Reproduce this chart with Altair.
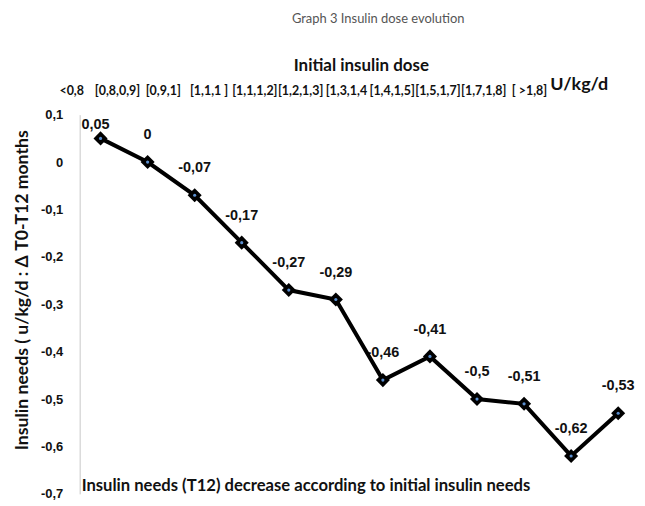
import altair as alt
import pandas as pd

# ---- data ----
point_index = list(range(1, 13))
needs_change = [0.05, 0, -0.07, -0.17, -0.27, -0.29, -0.46, -0.41, -0.5, -0.51, -0.62, -0.53]
dose_labels = ["<0,8", "[0,8,0,9]", "[0,9,1]", "[1,1,1 ]", "[1,1,1,2]", "[1,2,1,3]",
               "[1,3,1,4", "[1,4,1,5]", "[1,5,1,7]", "[1,7,1,8]", "[ >1,8]"]
y_ticks = [0.1, 0, -0.1, -0.2, -0.3, -0.4, -0.5, -0.6, -0.7]

chart_title = "Graph 3 Insulin dose evolution"
top_title = "Initial insulin dose"
unit_label = "U/kg/d"
bottom_note = "Insulin needs  (T12) decrease according to initial insulin needs"
y_title = "Insulin needs ( u/kg/d : \u0394 T0-T12 months"

W, H = 560, 381
CAL = "Lato"
ARIAL = "Liberation Sans"

df = pd.DataFrame({"i": point_index, "v": needs_change})
lab_df = pd.DataFrame({"lab": dose_labels})

x_enc = alt.X("i:Q", axis=None,
              scale=alt.Scale(domain=[0.556, 12.40], nice=False, zero=False))
y_scale = alt.Scale(domain=[-0.7, 0.1], nice=False, zero=False)
y_enc = alt.Y("v:Q", scale=y_scale,
              axis=alt.Axis(values=y_ticks, grid=False, ticks=False,
                            domainColor="#c8c8c8", domainWidth=1,
                            labelFont=ARIAL, labelFontWeight="bold", labelFontSize=13,
                            labelColor="#111", labelPadding=17,
                            labelExpr="datum.value == 0 ? '0' : replace(replace(format(datum.value, '.1f'), '.', ','), '\u2212', '-')",
                            title=y_title, titleFont=CAL, titleFontWeight="bold",
                            titleFontSize=17.7, titleColor="#111", titleX=-57, titleY=176,
                            titleBaseline="middle"))

base = alt.Chart(df).transform_calculate(
    lbl="replace(replace(format(datum.v, '.2~f'), '.', ','), '\u2212', '-')"
)

text_kw = dict(font=ARIAL, fontWeight="bold", fontSize=14.5, color="#111")
texts_first = base.transform_filter("datum.i == 1").mark_text(dy=-13, dx=-5, **text_kw).encode(
    x=x_enc, y=y_enc, text="lbl:N")
texts_rest = base.transform_filter("datum.i != 1").mark_text(dy=-27, **text_kw).encode(
    x=x_enc, y=y_enc, text="lbl:N")

line = base.mark_line(color="black", strokeWidth=4).encode(x=x_enc, y=y_enc)
diamonds = base.mark_point(shape="diamond", filled=True, color="black", size=200, opacity=1).encode(x=x_enc, y=y_enc)
dots = base.mark_point(shape="circle", filled=True, color="#5b8fd0", size=10, opacity=1).encode(x=x_enc, y=y_enc)

top_labels = alt.Chart(lab_df).mark_text(font=CAL, fontWeight="bold", fontSize=12.5, color="#111").encode(
    x=alt.X("lab:N", sort=None, axis=None,
            scale=alt.Scale(type="point", range=[-8, 452], padding=0)),
    y=alt.value(-24),
    text="lab:N",
)

def note(txt, x, y, size, weight="bold", color="#111", font=CAL, align="center"):
    return alt.Chart(alt.Data(values=[{"t": txt}])).mark_text(
        font=font, fontSize=size, fontWeight=weight, color=color, align=align, baseline="middle"
    ).encode(x=alt.value(x), y=alt.value(y), text="t:N")

annots = [
    note(chart_title, 300, -96, 13, weight="normal", color="#555"),
    note(top_title, 283, -49, 17),
    note(unit_label, 502, -30, 18),
    note(bottom_note, 2, 373, 16.7, align="left"),
]

chart = alt.layer(texts_first, texts_rest, line, diamonds, dots, top_labels, *annots).resolve_scale(
    x="independent"
).properties(
    width=W, height=H,
    autosize=alt.AutoSizeParams(type="none"),
    padding={"left": 72, "top": 106, "right": 0, "bottom": 10},
).configure_view(stroke=None)

chart.save("out.html", embed_options={"renderer": "svg", "actions": False})
